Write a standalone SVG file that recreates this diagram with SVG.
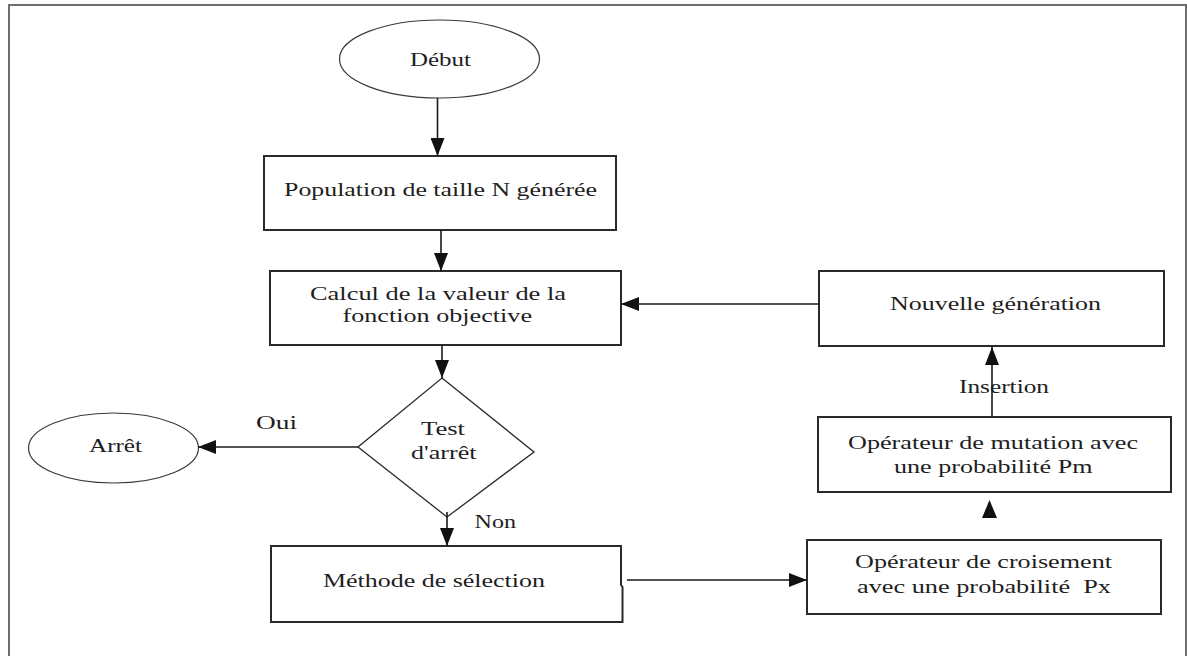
<svg xmlns="http://www.w3.org/2000/svg" width="1187" height="656" viewBox="0 0 1187 656">
<style>
.t{font-family:"Liberation Serif","Times New Roman",serif;font-size:19px;fill:#1e1e1e}
.box{fill:#fff;stroke:#2a2a2a;stroke-width:2}
.ell{fill:#fff;stroke:#3a3a3a;stroke-width:1.2}
.dia{fill:#fff;stroke:#2a2a2a;stroke-width:1.3}
.ln{fill:none;stroke:#1a1a1a;stroke-width:1.6}
.frame{fill:none;stroke:#6e6e6e;stroke-width:2}
</style>
<defs>
<marker id="ah" viewBox="0 0 18 14" refX="18" refY="7" markerWidth="18" markerHeight="14" markerUnits="userSpaceOnUse" orient="auto">
<path d="M0,0 L18,7 L0,14 Z" fill="#111"/>
</marker>
</defs>
<rect width="1187" height="656" fill="#fff"/>
<path class="frame" d="M9,656 L9,5 L1186,5 L1186,656"/>

<g id="debut">
<ellipse class="ell" cx="439.5" cy="59" rx="100" ry="39"/>
<text class="t" x="410" y="66" textLength="61" lengthAdjust="spacingAndGlyphs">Début</text>
</g>
<g id="population">
<rect class="box" x="264" y="156" width="352" height="74"/>
<text class="t" x="284" y="196" textLength="313" lengthAdjust="spacingAndGlyphs">Population de taille N générée</text>
</g>
<g id="calcul">
<rect class="box" x="270" y="271" width="351" height="74"/>
<text class="t" x="310" y="300" textLength="256" lengthAdjust="spacingAndGlyphs">Calcul de la valeur de la</text>
<text class="t" x="342.5" y="322" textLength="189.5" lengthAdjust="spacingAndGlyphs">fonction objective</text>
</g>
<g id="test">
<path class="dia" d="M442,378 L534,452 L447,517 L358,447 Z"/>
<text class="t" x="421" y="435" textLength="44" lengthAdjust="spacingAndGlyphs">Test</text>
<text class="t" x="411" y="459" textLength="65.5" lengthAdjust="spacingAndGlyphs">d'arrêt</text>
</g>
<g id="arret">
<ellipse class="ell" cx="113.5" cy="448" rx="85" ry="35"/>
<text class="t" x="89" y="452" textLength="53" lengthAdjust="spacingAndGlyphs">Arrêt</text>
</g>
<g id="methode">
<path class="box" d="M271,546 L621,546 L621,585 L622.5,587 L622.5,622 L271,622 Z"/>
<text class="t" x="323" y="587" textLength="222" lengthAdjust="spacingAndGlyphs">Méthode de sélection</text>
</g>
<g id="croisement">
<rect class="box" x="807" y="540" width="354" height="74"/>
<text class="t" x="855" y="568" textLength="257" lengthAdjust="spacingAndGlyphs">Opérateur de croisement</text>
<text class="t" x="857" y="593" textLength="254" lengthAdjust="spacingAndGlyphs" xml:space="preserve">avec une probabilité  Px</text>
</g>
<g id="mutation">
<rect class="box" x="818" y="417" width="353" height="75"/>
<text class="t" x="848" y="449" textLength="290" lengthAdjust="spacingAndGlyphs">Opérateur de mutation avec</text>
<text class="t" x="894" y="473" textLength="198.5" lengthAdjust="spacingAndGlyphs">une probabilité Pm</text>
</g>
<g id="nouvelle">
<rect class="box" x="819" y="271" width="345" height="75"/>
<text class="t" x="890" y="310" textLength="211" lengthAdjust="spacingAndGlyphs">Nouvelle génération</text>
</g>

<g id="connectors">
<line class="ln" x1="437.5" y1="98" x2="437.5" y2="156" marker-end="url(#ah)"/>
<line class="ln" x1="441" y1="230" x2="441" y2="271" marker-end="url(#ah)"/>
<line class="ln" x1="442" y1="345" x2="442" y2="378" marker-end="url(#ah)"/>
<line class="ln" x1="358" y1="447" x2="198" y2="447" marker-end="url(#ah)"/>
<line class="ln" x1="447" y1="512" x2="447" y2="546" marker-end="url(#ah)"/>
<line class="ln" x1="627" y1="580" x2="807" y2="580" marker-end="url(#ah)"/>
<path d="M982,518 L997,518 L989.5,500 Z" fill="#111"/>
<line class="ln" x1="992" y1="417" x2="992" y2="347" marker-end="url(#ah)"/>
<line class="ln" x1="819" y1="304" x2="621" y2="304" marker-end="url(#ah)"/>
<text class="t" x="256" y="429" textLength="41" lengthAdjust="spacingAndGlyphs">Oui</text>
<text class="t" x="474.5" y="528" textLength="41.5" lengthAdjust="spacingAndGlyphs">Non</text>
<text class="t" x="959" y="393" textLength="90" lengthAdjust="spacingAndGlyphs">Insertion</text>
</g>
</svg>
